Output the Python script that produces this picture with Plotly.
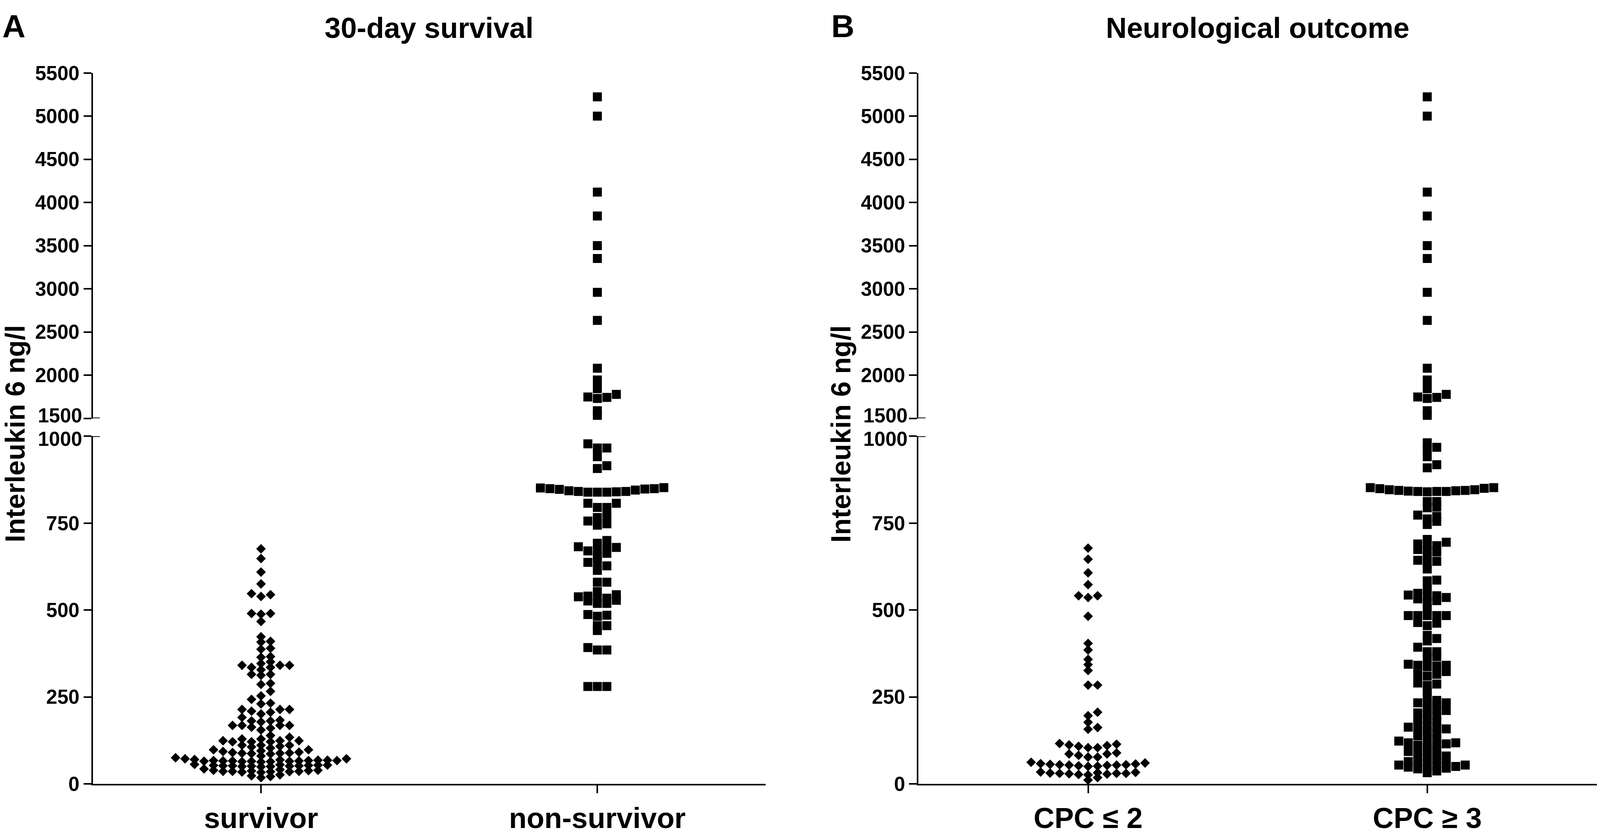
import plotly.graph_objects as go

# positions below were measured on the 4550x2142 reference and are kept as fractions,
# the figure itself fills whatever window it is opened in
W, H = 4550, 2142
FONT = "Liberation Sans, Arial, sans-serif"

categories_a = ["survivor", "non-survivor"]
categories_b = ["CPC \u2264 2", "CPC \u2265 3"]
panel_titles = ["30-day survival", "Neurological outcome"]
panel_letters = ["A", "B"]
y_title = "Interleukin 6 ng/l"

lower_ticks = [0, 250, 500, 750, 1000]
upper_ticks = [1500, 2000, 2500, 3000, 3500, 4000, 4500, 5000, 5500]

# IL-6 values (ng/l)
survivor = [
    18, 21, 23, 26,
    33, 34, 35, 35, 36, 36, 36, 37, 38, 39, 39, 41, 43,
    49, 50, 50, 51, 51, 52, 52, 52, 53, 53, 54, 54, 55, 56,
    63, 64, 64, 65, 65, 65, 66, 66, 66, 67, 67, 67, 68, 68, 69, 70, 72, 72, 75, 80,
    86, 87, 88, 88, 89, 90, 91, 93, 95,
    98, 98, 103, 106, 108, 111, 111, 111,
    121, 121, 121, 124, 124, 124, 129, 129, 134, 139,
    155, 160, 163, 168, 168, 168, 168, 178, 181, 181, 183,
    191, 201, 206, 209, 214, 214, 214, 230, 232, 243,
    253, 266, 286, 289, 312, 315, 315,
    328, 335, 335, 341, 341, 341, 346, 351,
    364, 366, 387, 390, 408, 410, 423, 467,
    488, 490, 490, 539, 544, 547, 575, 609, 648, 676,
]
non_survivor = [
    280, 280, 280, 385, 385, 392,
    441, 455, 455, 482, 485, 487,
    519, 519, 526, 528, 534, 534, 538, 540, 544, 553, 580, 580,
    614, 627, 637, 637, 655, 663, 670, 670, 677, 680, 682, 692, 700,
    744, 748, 756, 766, 770, 795, 795, 807, 807,
    839, 839, 839, 840, 841, 841, 843, 845, 847, 848, 849, 849, 851, 852,
    907, 915, 941, 966, 966, 978,
    1534, 1588, 1730, 1742, 1747, 1777, 1843, 1944, 2080,
    2634, 2959, 3351, 3500, 3843, 4120, 5000, 5223,
]
cpc_low = [
    11, 18,
    26, 27, 28, 29, 30, 30, 30, 31, 32, 33, 34,
    50, 51, 52, 53, 54, 54, 55, 55, 56, 57, 58, 60, 62,
    77, 77, 82, 86, 86, 89,
    104, 104, 108, 110, 112, 114, 116,
    157, 162, 177, 196, 206,
    284, 284, 326, 343, 358, 385, 404, 482,
    536, 541, 541, 573, 607, 646, 678,
]
cpc_high = [
    32, 37, 43, 45, 46, 48, 50, 52, 54, 54, 57, 59, 61, 64, 68,
    72, 75, 80, 82, 86, 90, 93, 97,
    104, 111, 111, 115, 118, 118, 118, 123, 128, 136, 138, 145,
    150, 158, 158, 163, 163, 167, 174, 179, 185, 190, 195,
    199, 204, 211, 211, 218, 226, 233, 233, 233, 240, 249, 265,
    283, 287, 290, 310, 315, 315, 323,
    337, 339, 341, 341, 344, 358, 366, 380, 380, 393,
    411, 418, 427, 455, 462, 464,
    484, 484, 484, 484, 484, 504,
    523, 527, 532, 536, 538, 541, 543, 548, 559, 584, 586,
    618, 633, 640, 643, 656, 667, 672, 674, 685, 687, 690, 695, 703,
    746, 755, 762, 769, 773, 794, 796, 812, 812,
    840, 841, 841, 841, 842, 843, 844, 844, 846, 846, 849, 850, 852, 852,
    909, 918, 941, 966, 968, 981,
    1534, 1588, 1730, 1742, 1747, 1777, 1843, 1944, 2080,
    2634, 2959, 3351, 3500, 3843, 4120, 5000, 5223,
]

X_DOM_A = [264 / W, 2177 / W]
X_DOM_B = [2612 / W, 4541 / W]
Y_LOW = [(H - 2032) / H, (H - 1118) / H]
Y_UP = [(H - 1071) / H, (H - 163) / H]
X_RANGE = [-0.5, 1.5]
LOW_RANGE = [0, 1000]
UP_RANGE = [1500, 5500]
TICK_SIZE = 51


def px_per_unit(dom, rng, total):
    return (dom[1] - dom[0]) * total / (rng[1] - rng[0])


def swarm(values, ppu, h=12.0, w=27.0):
    # simple beeswarm: each point goes to the free slot nearest the centre
    order = sorted(range(len(values)), key=lambda i: values[i])
    placed = []
    offs = [0.0] * len(values)
    for i in order:
        y = values[i] * ppu
        near = [px for py, px in placed if abs(py - y) < h]
        cands = [0.0] + [px + s * w for px in near for s in (1, -1)]
        cands.sort(key=lambda c: (round(abs(c), 3), -c))
        for c in cands:
            if all(abs(c - px) >= w - 1e-6 for px in near):
                break
        offs[i] = c
        placed.append((y, c))
    return offs


fig = go.Figure()


def add_group(values, pos, xdom, xname, ylow, yup, symbol, size):
    ppx = px_per_unit(xdom, X_RANGE, W)
    low = [v for v in values if v <= LOW_RANGE[1]]
    up = [v for v in values if v >= UP_RANGE[0]]
    for vals, rng, dom, yname in ((low, LOW_RANGE, Y_LOW, ylow), (up, UP_RANGE, Y_UP, yup)):
        offs = swarm(vals, px_per_unit(dom, rng, H))
        fig.add_trace(go.Scatter(
            x=[pos + o / ppx for o in offs], y=vals,
            xaxis=xname, yaxis=yname, mode="markers",
            marker=dict(symbol=symbol, size=size, color="black", line=dict(width=0)),
            cliponaxis=False, showlegend=False, hoverinfo="y",
        ))


add_group(survivor, 0, X_DOM_A, "x", "y", "y2", "diamond", 19)
add_group(non_survivor, 1, X_DOM_A, "x", "y", "y2", "square", 23)
add_group(cpc_low, 0, X_DOM_B, "x2", "y3", "y4", "diamond", 19)
add_group(cpc_high, 1, X_DOM_B, "x2", "y3", "y4", "square", 23)

axis_common = dict(
    showline=True, linecolor="black", linewidth=4, showgrid=False, zeroline=False,
    ticks="outside", tickcolor="black", tickwidth=4, fixedrange=True,
)
ytick_font = dict(family=FONT, size=TICK_SIZE, color="black", weight="bold")
xtick_font = dict(family=FONT, size=74, color="black", weight="bold")


def xaxis(dom, anchor, labels):
    return dict(axis_common, domain=dom, anchor=anchor, range=X_RANGE,
                tickvals=[0, 1], ticktext=labels, ticklen=20, tickfont=xtick_font)


def yaxis(dom, anchor, rng, ticks, blank):
    # the label next to the break is drawn separately so the two do not collide
    text = ["" if t == blank else str(t) for t in ticks]
    return dict(axis_common, domain=dom, anchor=anchor, range=rng,
                tickvals=ticks, ticktext=text, ticklen=20, tickfont=ytick_font)


annotations = []
shapes = []
for xdom, letter, title, ylow, yup, ytx, letx in (
    (X_DOM_A, panel_letters[0], panel_titles[0], "y", "y2", 44, 4),
    (X_DOM_B, panel_letters[1], panel_titles[1], "y3", "y4", 2392, 2362),
):
    annotations.append(dict(text=letter, x=letx / W, y=1 - 40 / H, xref="paper", yref="paper",
                            xanchor="left", yanchor="middle", showarrow=False,
                            font=dict(family=FONT, size=82, color="black", weight="bold")))
    annotations.append(dict(text=title, x=(xdom[0] + xdom[1]) / 2, y=1 - 45 / H,
                            xref="paper", yref="paper", xanchor="center", yanchor="middle",
                            showarrow=False,
                            font=dict(family=FONT, size=74, color="black", weight="bold")))
    annotations.append(dict(text=y_title, x=ytx / W, y=1 - 1112 / H, xref="paper", yref="paper",
                            xanchor="center", yanchor="middle", textangle=-90, showarrow=False,
                            font=dict(family=FONT, size=70, color="black", weight="bold")))
    for yref, yv, shift in ((ylow, LOW_RANGE[1], -7), (yup, UP_RANGE[0], 7)):
        annotations.append(dict(text=str(yv), x=xdom[0], xshift=-26, y=yv, xref="paper", yref=yref,
                                xanchor="right", yanchor="middle", yshift=shift, showarrow=False,
                                font=ytick_font))
        # little marks where the axis is broken
        shapes.append(dict(type="line", xref="paper", yref=yref,
                           x0=xdom[0], x1=xdom[0] + 20 / W, y0=yv, y1=yv,
                           line=dict(color="black", width=4)))

fig.update_layout(
    autosize=True,
    margin=dict(l=0, r=0, t=0, b=0),
    paper_bgcolor="white", plot_bgcolor="white",
    font=dict(family=FONT, color="black"),
    xaxis=xaxis(X_DOM_A, "y", categories_a),
    yaxis=yaxis(Y_LOW, "x", LOW_RANGE, lower_ticks, LOW_RANGE[1]),
    yaxis2=yaxis(Y_UP, "x", UP_RANGE, upper_ticks, UP_RANGE[0]),
    xaxis2=xaxis(X_DOM_B, "y3", categories_b),
    yaxis3=yaxis(Y_LOW, "x2", LOW_RANGE, lower_ticks, LOW_RANGE[1]),
    yaxis4=yaxis(Y_UP, "x2", UP_RANGE, upper_ticks, UP_RANGE[0]),
    annotations=annotations,
    shapes=shapes,
)

fill_script = """
document.documentElement.style.overflow = 'hidden';
document.body.style.margin = '0';
Plotly.Plots.resize(document.getElementById('{plot_id}'));
"""

fig.write_html("out.html", default_width="100vw", default_height="100vh",
               config={"displayModeBar": False, "responsive": True},
               post_script=fill_script)
